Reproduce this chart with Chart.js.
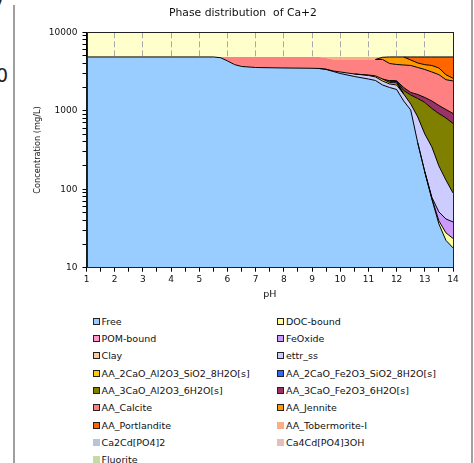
<!DOCTYPE html>
<html>
<head>
<meta charset="utf-8">
<script src="https://cdn.jsdelivr.net/npm/chart.js@4.4.0/dist/chart.umd.min.js"></script>
<style>
  html, body { margin: 0; padding: 0; background: #fff; }
  body { width: 474px; height: 463px; position: relative; overflow: hidden; font-family: "DejaVu Sans", sans-serif; }
  #wrap { position: absolute; left: 0; top: 0; width: 474px; height: 300px; }
  .frame { position: absolute; top: 0; bottom: 0; width: 2px; background: #a0a0a0; }
  .legend-item { position: absolute; font-size: 9.5px; line-height: 12px; white-space: nowrap; color: #111; }
  .legend-item span { display: inline-block; width: 5px; height: 5px; border: 1px solid #222; margin-right: 2px; }
  .cut { position: absolute; font-size: 19px; line-height: 19px; color: #222; }
</style>
</head>
<body>
<div class="cut" style="left:-9px; top:-2px">7</div>
<div class="cut" style="left:-4px; top:66px">0</div>
<div class="frame" style="left:13px; top:5px"></div>
<div class="frame" style="left:471px"></div>
<div id="wrap"><canvas id="phaseChart"></canvas></div>
<div id="legend"></div>
<script>
const chartTitle = 'Phase distribution  of Ca+2';
const xTitle = 'pH';
const yTitle = 'Concentration (mg/L)';

const phValues = [1, 2, 3, 4, 5, 5.5, 5.75, 6, 6.25, 6.5, 7, 8, 9, 9.25, 9.5, 9.75, 10, 10.5, 11, 11.25, 11.5, 11.75, 12, 12.25, 12.5, 12.75, 13, 13.25, 13.5, 13.75, 14];

// mg/L of each phase at each pH
const free = [4850, 4850, 4850, 4850, 4850, 4850, 4750, 4320, 3880, 3670, 3560, 3510, 3480, 3460, 3360, 3167, 2987, 2735, 2541, 2432, 2132, 1981, 1868, 1333, 1024, 389, 166, 75, 36.1, 22.3, 17.9];
const docBound = [0, 0, 0, 0, 0, 0, 0, 0, 0, 0, 0, 0, 0, 0, 0, 0, 0, 0, 0, 0, 0, 0, 0, 0, 0, 0, 0, 1, 3.4, 5.5, 5.7];
const pomBound = [0, 0, 0, 0, 0, 0, 0, 0, 0, 0, 0, 0, 0, 0, 0, 0, 0, 0, 0, 0, 0, 0, 0, 0, 0, 0, 0, 0, 0, 0, 0];
const feOxide = [0, 0, 0, 0, 0, 0, 0, 0, 0, 0, 0, 0, 0, 0, 0, 0, 0, 0, 0, 0, 0, 0, 0, 0, 0, 0, 1, 3, 11.9, 14, 14.7];
const clay = [0, 0, 0, 0, 0, 0, 0, 0, 0, 0, 0, 0, 0, 0, 0, 0, 0, 0, 0, 0, 0, 0, 0, 0, 0, 0, 0, 0, 0, 0, 0];
const ettrSs = [0, 0, 0, 0, 0, 0, 0, 0, 0, 0, 0, 0, 0, 0, 30, 47, 134, 208, 276, 264, 265, 214, 264, 304, 197, 445, 339, 267, 146.6, 89, 51.4];
const c2asH8 = [0, 0, 0, 0, 0, 0, 0, 0, 0, 0, 0, 0, 0, 0, 0, 0, 0, 0, 40, 90, 144, 99, 128, 0, 0, 0, 0, 0, 0, 0, 0];
const c2fsH8 = [0, 0, 0, 0, 0, 0, 0, 0, 0, 0, 0, 0, 0, 0, 0, 0, 0, 0, 0, 0, 0, 120, 102, 0, 0, 0, 0, 0, 0, 0, 0];
const c3aH6 = [0, 0, 0, 0, 0, 0, 0, 0, 0, 0, 0, 0, 0, 0, 0, 0, 0, 0, 0, 0, 0, 0, 20, 177, 369, 600, 770, 724, 721, 679, 599];
const c3fH6 = [0, 0, 0, 0, 0, 0, 0, 0, 0, 0, 0, 0, 0, 0, 0, 0, 0, 0, 0, 0, 0, 0, 20, 167, 121, 179, 201, 263, 249, 229, 235];
const calcite = [0, 0, 0, 0, 0, 0, 100, 530, 970, 1180, 1290, 1340, 1370, 1390, 1315, 1290, 1383, 1561, 1647, 1718, 1963, 1590, 1487, 1851, 2066, 1948, 1881, 1788, 1716, 1451, 1473];
const jennite = [0, 0, 0, 0, 0, 0, 0, 0, 0, 0, 0, 0, 0, 0, 0, 0, 0, 0, 0, 0, 300, 846, 961, 1018, 661, 502, 509, 656, 625, 394, 197];
const portlandite = [0, 0, 0, 0, 0, 0, 0, 0, 0, 0, 0, 0, 0, 0, 0, 0, 0, 0, 0, 0, 0, 0, 0, 0, 412, 787, 983, 1073, 1341, 1966, 2256];
const tobermorite = [0, 0, 0, 0, 0, 0, 0, 0, 0, 0, 0, 0, 0, 0, 145, 346, 346, 346, 346, 346, 46, 0, 0, 0, 0, 0, 0, 0, 0, 0, 0];
const ca2Cd = [0, 0, 0, 0, 0, 0, 0, 0, 0, 0, 0, 0, 0, 0, 0, 0, 0, 0, 0, 0, 0, 0, 0, 0, 0, 0, 0, 0, 0, 0, 0];
const ca4Cd = [0, 0, 0, 0, 0, 0, 0, 0, 0, 0, 0, 0, 0, 0, 0, 0, 0, 0, 0, 0, 0, 0, 0, 0, 0, 0, 0, 0, 0, 0, 0];
const fluorite = [0, 0, 0, 0, 0, 0, 0, 0, 0, 0, 0, 0, 0, 0, 0, 0, 0, 0, 0, 0, 0, 0, 0, 0, 0, 0, 0, 0, 0, 0, 0];

const seriesNames = ['Free', 'DOC-bound', 'POM-bound', 'FeOxide', 'Clay', 'ettr_ss',
  'AA_2CaO_Al2O3_SiO2_8H2O[s]', 'AA_2CaO_Fe2O3_SiO2_8H2O[s]', 'AA_3CaO_Al2O3_6H2O[s]', 'AA_3CaO_Fe2O3_6H2O[s]',
  'AA_Calcite', 'AA_Jennite', 'AA_Portlandite', 'AA_Tobermorite-I', 'Ca2Cd[PO4]2', 'Ca4Cd[PO4]3OH', 'Fluorite'];
const seriesValues = [free, docBound, pomBound, feOxide, clay, ettrSs, c2asH8, c2fsH8, c3aH6, c3fH6,
  calcite, jennite, portlandite, tobermorite, ca2Cd, ca4Cd, fluorite];
const seriesColors = ['#99CCFF', '#FFFF99', '#FF99CC', '#CC99FF', '#FFCC99', '#CCCCFF',
  '#FFCC00', '#3366FF', '#808000', '#993366', '#FF8080', '#FF9900', '#FF6600', '#F9AE86',
  '#B8C4DC', '#E6BCBC', '#C6DAA8'];
// which areas have a dark outline in the original
const seriesOutline = [true, true, true, true, true, true, true, true, true, true, false, true, true, false, false, false, false];
const legendOutline = [true, true, true, true, true, true, true, true, true, true, true, true, true, false, false, false, false];

const xTickValues = [1, 2, 3, 4, 5, 6, 7, 8, 9, 10, 11, 12, 13, 14];
const yTickLabels = [10, 100, 1000, 10000];

const font = 'DejaVu Sans';
const n = seriesNames.length;

// stack the phases on top of each other
const cumulative = [];
seriesValues.forEach((vals, d) => {
  cumulative.push(vals.map((v, i) => v + (d > 0 ? cumulative[d - 1][i] : 0)));
});

// a boundary is dark when the band under it or the band over it has an outline
function lineColor(d) {
  return ctx => {
    const a = ctx.p0DataIndex, b = ctx.p1DataIndex;
    const thick = k => seriesValues[k][a] > 0 || seriesValues[k][b] > 0;
    if (!thick(d)) return 'rgba(0,0,0,0)';
    if (seriesOutline[d]) return '#000';
    for (let k = d + 1; k < n; k++) {
      if (thick(k)) return seriesOutline[k] ? '#000' : 'rgba(0,0,0,0)';
    }
    return 'rgba(0,0,0,0)';
  };
}

const points = d => phValues.map((p, i) => ({ x: p, y: cumulative[d][i] }));

// filled bands (indices 0..n-1), then their top edges drawn above all bands
const bands = seriesNames.map((name, d) => ({
  label: name,
  data: points(d),
  backgroundColor: seriesColors[d],
  borderWidth: 0,
  fill: d === 0 ? 'start' : d - 1,
  pointRadius: 0,
  order: 1
}));
const edges = seriesNames.map((name, d) => ({
  label: name + ' edge',
  data: points(d),
  borderColor: '#000',
  borderWidth: 1,
  fill: false,
  pointRadius: 0,
  order: 0,
  segment: { borderColor: lineColor(d) }
}));

const xMinor = xTickValues.slice(1).map((v, i) => (v + xTickValues[i]) / 2);
const yMinor = [];
yTickLabels.slice(0, -1).forEach(p => { for (let m = 2; m <= 9; m++) yMinor.push(p * m); });

const decor = {
  id: 'decor',
  beforeDraw(chart) {
    const { ctx, chartArea: a } = chart;
    ctx.save();
    ctx.fillStyle = '#FFFFCC';
    ctx.fillRect(a.left, a.top, a.width, a.height);
    ctx.restore();
  },
  afterDatasetsDraw(chart) {
    const { ctx, chartArea: a } = chart;
    ctx.save();
    ctx.strokeStyle = '#222';
    ctx.lineWidth = 1;
    ctx.strokeRect(Math.round(a.left) + 0.5, Math.round(a.top) + 0.5, Math.round(a.width) - 1, Math.round(a.height));
    ctx.restore();
  },
  afterDraw(chart) {
    const { ctx, chartArea: a } = chart;
    ctx.save();
    ctx.fillStyle = '#111';
    ctx.textAlign = 'center';
    ctx.textBaseline = 'middle';
    ctx.font = '10.8px "' + font + '"';
    ctx.fillText(chartTitle, 243, 13.5);
    ctx.font = '9.5px "' + font + '"';
    ctx.fillText(xTitle, (a.left + a.right) / 2, 295);
    ctx.translate(38, (a.top + a.bottom) / 2);
    ctx.rotate(-Math.PI / 2);
    ctx.font = '8.2px "' + font + '"';
    ctx.fillText(yTitle, 0, 0);
    ctx.restore();
  }
};

new Chart(document.getElementById('phaseChart'), {
  type: 'line',
  data: { datasets: bands.concat(edges) },
  plugins: [decor],
  options: {
    responsive: true,
    maintainAspectRatio: false,
    animation: false,
    layout: { padding: { left: 0, right: 21, top: 32.3, bottom: 0 } },
    plugins: {
      legend: { display: false },
      tooltip: { enabled: false },
      filler: { propagate: false }
    },
    scales: {
      x: {
        type: 'linear',
        min: 1,
        max: 14,
        afterBuildTicks: s => { s.ticks = xTickValues.concat(xMinor).sort((p, q) => p - q).map(v => ({ value: v })); },
        afterFit: s => { s.height = 32.3; },
        ticks: {
          autoSkip: false,
          maxRotation: 0,
          padding: 3,
          color: '#111',
          font: { family: font, size: 9 },
          callback: v => xTickValues.includes(v) ? String(v) : ''
        },
        grid: {
          color: ctx => (ctx.tick && xTickValues.includes(ctx.tick.value)) ? '#a8a8a8' : 'rgba(0,0,0,0)',
          tickColor: '#000',
          tickLength: 4,
          lineWidth: 1
        },
        border: { color: '#000', dash: [6, 3] }
      },
      y: {
        type: 'logarithmic',
        min: 10,
        max: 10000,
        afterBuildTicks: s => { s.ticks = yTickLabels.concat(yMinor).sort((p, q) => p - q).map(v => ({ value: v })); },
        afterFit: s => { s.width = 86.5; },
        ticks: {
          autoSkip: false,
          padding: 5,
          color: '#111',
          font: { family: font, size: 9 },
          callback: v => yTickLabels.includes(v) ? String(v) : ''
        },
        grid: { drawOnChartArea: false, color: '#000', tickColor: '#000', tickLength: 4 },
        border: { color: '#000' }
      }
    }
  }
});

const legend = document.getElementById('legend');
seriesNames.forEach((name, k) => {
  const item = document.createElement('div');
  item.className = 'legend-item';
  item.style.left = (k % 2 ? 277 : 92.5) + 'px';
  item.style.top = (321.7 + Math.floor(k / 2) * 17.3 - 6) + 'px';
  const box = document.createElement('span');
  box.style.background = seriesColors[k];
  if (!legendOutline[k]) box.style.borderColor = seriesColors[k];
  item.appendChild(box);
  item.appendChild(document.createTextNode(name));
  legend.appendChild(item);
});
</script>
</body>
</html>
